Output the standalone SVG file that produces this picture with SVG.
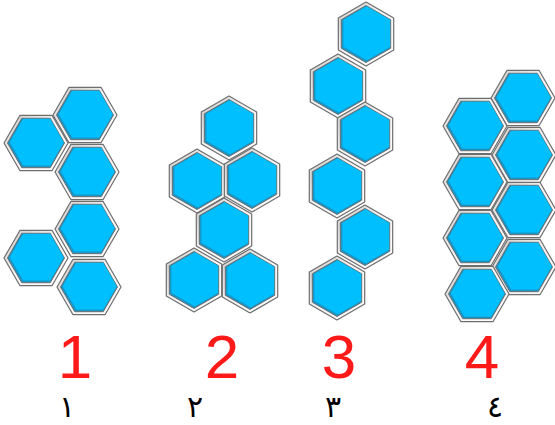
<svg xmlns="http://www.w3.org/2000/svg" xmlns:xlink="http://www.w3.org/1999/xlink" width="555" height="425" viewBox="0 0 555 425">
<style>
.outer{stroke:#6e6e6e;stroke-width:1.2;stroke-linejoin:round}
.shadow{fill:#1796c8;stroke:#6e6e6e;stroke-width:1;stroke-linejoin:round}
.blue{fill:#00bfff}
.num{font-family:"Liberation Sans",Arial,sans-serif;font-size:62px;fill:#ff1a1a;text-anchor:middle}
.ar{font-family:"DejaVu Sans",sans-serif;font-size:30px;fill:#000;text-anchor:middle}
</style>
<defs>
<linearGradient id="bev" x1="0" y1="0" x2="1" y2="1">
<stop offset="0" stop-color="#c8c8c8"/>
<stop offset="0.45" stop-color="#f4f4f4"/>
<stop offset="1" stop-color="#ffffff"/>
</linearGradient>
<g id="hf">
<polygon class="outer" fill="url(#bev)" points="32,0 16,27.7 -16,27.7 -32,0 -16,-27.7 16,-27.7"/>
<polygon class="shadow" points="28.5,0 14.25,24.7 -14.25,24.7 -28.5,0 -14.25,-24.7 14.25,-24.7"/>
<polygon class="blue" points="27.8,-0.8 14.3,22.6 -12.7,22.6 -26.2,-0.8 -12.7,-24.2 14.3,-24.2"/>
</g>
<g id="hp">
<polygon class="outer" fill="url(#bev)" points="0,-32 27.7,-16 27.7,16 0,32 -27.7,16 -27.7,-16"/>
<polygon class="shadow" points="0,-28.5 24.7,-14.25 24.7,14.25 0,28.5 -24.7,14.25 -24.7,-14.25"/>
<polygon class="blue" points="0.8,-27.8 24.2,-14.3 24.2,12.7 0.8,26.2 -22.6,12.7 -22.6,-14.3"/>
</g>
</defs>
<g id="figure1">
<g id="f1h1"><use xlink:href="#hf" x="85" y="115"/></g>
<g id="f1h2"><use xlink:href="#hf" x="36" y="143"/></g>
<g id="f1h3"><use xlink:href="#hf" x="87" y="172"/></g>
<g id="f1h4"><use xlink:href="#hf" x="87" y="229"/></g>
<g id="f1h5"><use xlink:href="#hf" x="36" y="258"/></g>
<g id="f1h6"><use xlink:href="#hf" x="89" y="287"/></g>
</g>
<g id="figure2">
<g id="f2h1"><use xlink:href="#hp" x="229" y="128"/></g>
<g id="f2h2"><use xlink:href="#hp" x="197" y="181"/></g>
<g id="f2h3"><use xlink:href="#hp" x="252" y="180"/></g>
<g id="f2h4"><use xlink:href="#hp" x="224" y="230"/></g>
<g id="f2h5"><use xlink:href="#hp" x="194" y="280"/></g>
<g id="f2h6"><use xlink:href="#hp" x="250" y="281"/></g>
</g>
<g id="figure3">
<g id="f3h1"><use xlink:href="#hp" x="366" y="34"/></g>
<g id="f3h2"><use xlink:href="#hp" x="338" y="86"/></g>
<g id="f3h3"><use xlink:href="#hp" x="365" y="134"/></g>
<g id="f3h4"><use xlink:href="#hp" x="337" y="186"/></g>
<g id="f3h5"><use xlink:href="#hp" x="365" y="237"/></g>
<g id="f3h6"><use xlink:href="#hp" x="337" y="288"/></g>
</g>
<g id="figure4">
<g id="f4h1"><use xlink:href="#hf" x="523" y="98"/></g>
<g id="f4h2"><use xlink:href="#hf" x="475" y="126"/></g>
<g id="f4h3"><use xlink:href="#hf" x="524" y="155"/></g>
<g id="f4h4"><use xlink:href="#hf" x="475" y="182"/></g>
<g id="f4h5"><use xlink:href="#hf" x="524" y="210"/></g>
<g id="f4h6"><use xlink:href="#hf" x="475" y="238"/></g>
<g id="f4h7"><use xlink:href="#hf" x="524" y="267"/></g>
<g id="f4h8"><use xlink:href="#hf" x="477" y="294"/></g>
</g>
<g id="labels">
<text class="num" x="75" y="378">1</text>
<text class="num" x="222" y="378">2</text>
<text class="num" x="339" y="378">3</text>
<text class="num" x="482" y="378">4</text>
<text class="ar" x="67" y="417">١</text>
<text class="ar" x="195" y="417">٢</text>
<text class="ar" x="333" y="417">٣</text>
<text class="ar" x="495" y="417">٤</text>
</g>
</svg>
